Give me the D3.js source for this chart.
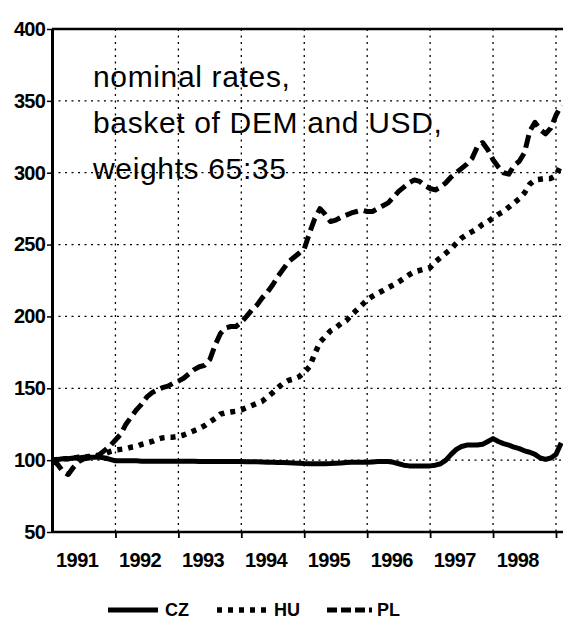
<!DOCTYPE html>
<html>
<head>
<meta charset="utf-8">
<script src="https://cdn.jsdelivr.net/npm/d3@7"></script>
<style>
  body { margin: 0; background: #fff; }
  svg { display: block; }
  text { font-family: "Liberation Sans", Arial, sans-serif; fill: #000; }
</style>
</head>
<body>
<div id="main"></div>
<script>
// monthly index values, Jan 1991 = month 0
var years = ["1991", "1992", "1993", "1994", "1995", "1996", "1997", "1998"];
var yTicks = [50, 100, 150, 200, 250, 300, 350, 400];
var titleLines = ["nominal rates,", "basket of DEM and USD,", "weights 65:35"];

var cz = [
	100, 100.5, 101, 101, 101.5, 101.5, 102, 102, 102, 102, 101.5, 100.5,
	99.5, 99.5, 99.5, 99.5, 99.5, 99.3, 99.3, 99.3, 99.3, 99.3, 99.3, 99.3,
	99.2, 99.2, 99.2, 99.2, 99.1, 99.1, 99.1, 99, 99, 99, 99, 99,
	99, 98.9, 98.8, 98.8, 98.7, 98.6, 98.5, 98.4, 98.3, 98.2, 98, 97.9,
	97.6, 97.5, 97.5, 97.5, 97.5, 97.6, 97.8, 98, 98.3, 98.5, 98.5, 98.5,
	98.5, 98.7, 99, 99, 99, 98.5, 97.5, 96.5, 96, 96, 96, 96,
	96, 96.5, 97.5, 100, 104, 107.5, 109.5, 110.5, 110.5, 110.5, 111, 113,
	115, 113, 111.5, 110.5, 109, 108, 106.5, 105.5, 104, 101.5, 100.5, 101.5,
	104, 112
];

var hu = [
	100, 100.5, 101, 101, 101.5, 102, 102, 102.5, 103, 103.5, 104.5, 106,
	107, 107.5, 108, 109, 109.5, 111, 112, 113, 114.5, 115.5, 116, 116,
	116.5, 117.5, 119, 120.5, 122, 124, 126.5, 129, 132, 133, 133.5, 134,
	135, 136.5, 138, 139.5, 141, 144, 147, 150.5, 153.5, 155.5, 156.5, 158,
	161, 165, 174, 182, 186, 190, 192, 195, 197, 201, 204.5, 208,
	211.5, 214, 216, 218, 220, 222, 224, 226.5, 229, 231, 232, 233,
	234, 238, 241, 244, 247, 251, 254.5, 257, 259, 261, 264, 266,
	268.5, 271, 273, 276, 279, 282, 286, 292, 295, 295.5, 296, 296,
	298, 306
];

var pl = [
	100, 97, 92, 90, 95, 99, 101, 101.5, 102, 104, 107, 110,
	114, 118, 125, 130, 135, 139, 144, 147, 149, 150.5, 151.5, 153.5,
	155, 157, 160, 163, 165, 166, 170, 180, 188, 192, 193, 193,
	196, 200, 204.5, 208, 213, 217, 222, 228, 233, 238, 241, 244,
	247, 258, 268, 275, 271, 266, 267, 269, 270.5, 272, 273, 274,
	273, 273, 275, 277, 279, 283, 287, 290, 293, 295, 294, 291,
	289, 288, 290, 293, 297, 300, 303, 306, 310, 318, 321, 316,
	309, 304, 300, 299, 305, 308, 314, 329, 335, 330, 327, 331,
	340, 347
];

var WIDTH = 563, HEIGHT = 621;
var plot = { left: 52, right: 563, top: 29, bottom: 532 };

var svg = d3.select("#main").append("svg")
	.attr("width", WIDTH)
	.attr("height", HEIGHT);

var x = d3.scaleLinear().domain([0, 96]).range([52.5, 556]);
var y = d3.scaleLinear().domain([50, 400]).range([plot.bottom, plot.top]);

// gridlines
var grid = svg.append("g")
	.attr("stroke", "#000")
	.attr("stroke-width", 1.3)
	.attr("stroke-dasharray", "2,4.5");

grid.selectAll(".vg")
	.data(d3.range(1, 9))
	.enter().append("line")
		.attr("x1", function(d) { return x(d * 12); })
		.attr("x2", function(d) { return x(d * 12); })
		.attr("y1", plot.top)
		.attr("y2", plot.bottom);

grid.selectAll(".hg")
	.data(yTicks.filter(function(d) { return d > 50 && d < 400; }))
	.enter().append("line")
		.attr("x1", plot.left)
		.attr("x2", plot.right)
		.attr("y1", function(d) { return y(d); })
		.attr("y2", function(d) { return y(d); });

// note
svg.append("g").selectAll("text")
	.data(titleLines)
	.enter().append("text")
		.attr("x", 93)
		.attr("y", function(d, i) { return 87 + i * 46; })
		.attr("font-size", 30)
		.attr("letter-spacing", 0.65)
		.text(function(d) { return d; });

// series
var line = d3.line()
	.x(function(d, i) { return x(i); })
	.y(function(d) { return y(d); });

var series = [
	{ name: "CZ", values: cz, dash: null, width: 5 },
	{ name: "HU", values: hu, dash: "5,6", width: 5.5 },
	{ name: "PL", values: pl, dash: "13,6", width: 5 }
];

svg.append("g").selectAll("path")
	.data(series)
	.enter().append("path")
		.attr("d", function(d) { return line(d.values); })
		.attr("fill", "none")
		.attr("stroke", "#000")
		.attr("stroke-width", function(d) { return d.width; })
		.attr("stroke-dasharray", function(d) { return d.dash; })
		.attr("stroke-linejoin", "round");

// axes
var yAxis = svg.append("g")
	.attr("transform", "translate(" + plot.left + ",0)")
	.call(d3.axisLeft(y).tickValues(yTicks).tickSize(5).tickPadding(2).tickSizeOuter(0));
yAxis.select(".domain").attr("stroke-width", 3);
yAxis.selectAll(".tick line").attr("stroke-width", 1.5);
yAxis.selectAll("text")
	.attr("font-size", 20)
	.attr("font-weight", "bold")
	.attr("letter-spacing", -0.8)
	.style("font-family", "'Liberation Sans', Arial, sans-serif");

var xAxis = svg.append("g")
	.attr("transform", "translate(0," + plot.bottom + ")")
	.call(d3.axisBottom(x).tickValues(d3.range(12, 97, 12)).tickSize(6).tickFormat("").tickSizeOuter(0));
xAxis.select(".domain").attr("d", "M" + plot.left + ",0H" + plot.right).attr("stroke-width", 2.5);
xAxis.selectAll(".tick line").attr("stroke-width", 1.8);

svg.append("g").selectAll("text")
	.data(years)
	.enter().append("text")
		.attr("x", function(d, i) { return x(i * 12 + 4.7); })
		.attr("y", 567)
		.attr("text-anchor", "middle")
		.attr("font-size", 20)
		.attr("font-weight", "bold")
		.attr("letter-spacing", -0.6)
		.text(function(d) { return d; });

// top frame
svg.append("line")
	.attr("x1", plot.left).attr("x2", plot.right)
	.attr("y1", plot.top).attr("y2", plot.top)
	.attr("stroke", "#000")
	.attr("stroke-width", 2.5);

// legend
var legendX = [108, 217, 327];
var legend = svg.append("g").selectAll("g")
	.data(series)
	.enter().append("g")
		.attr("transform", function(d, i) { return "translate(" + legendX[i] + ",610)"; });

legend.append("line")
	.attr("x1", 0).attr("x2", function(d) { return d.name == "PL" ? 45 : 50; })
	.attr("y1", 0).attr("y2", 0)
	.attr("stroke", "#000")
	.attr("stroke-width", function(d) { return d.width; })
	.attr("stroke-dasharray", function(d) { return d.name == "PL" ? "10,4" : d.dash; });

legend.append("text")
	.attr("x", function(d) { return d.name == "PL" ? 50 : 57; })
	.attr("y", 6)
	.attr("font-size", 18)
	.attr("font-weight", "bold")
	.text(function(d) { return d.name; });
</script>
</body>
</html>
